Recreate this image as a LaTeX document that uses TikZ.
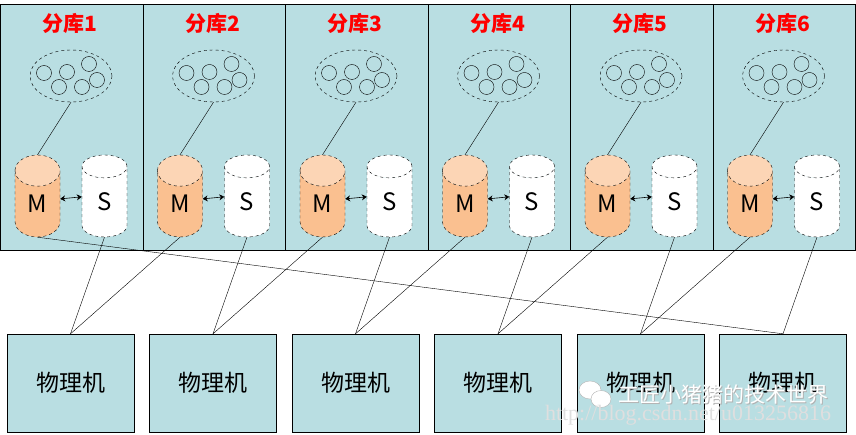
\documentclass[tikz,border=0pt]{standalone}
\usepackage{fontspec}
\setmainfont{Noto Sans CJK SC}
\newfontfamily\urlfont{Liberation Serif}
\usetikzlibrary{shapes.geometric,arrows.meta}

\definecolor{panelblue}{RGB}{185,222,226}
\definecolor{mbody}{RGB}{250,192,144}
\definecolor{mtop}{RGB}{252,213,181}

\tikzset{
  panel/.style={draw, fill=panelblue, minimum width=142.5pt, minimum height=246pt, inner sep=0pt},
  dbname/.style={text=red, font=\bfseries\fontsize{21}{21}\selectfont},
  tablegroup/.style={ellipse, draw, dashed, minimum width=82pt, minimum height=52pt},
  db/.style={cylinder, shape border rotate=90, draw, dashed, aspect=1.6,
    minimum width=45pt, minimum height=82pt, inner sep=0pt, anchor=shape center,
    font=\fontsize{24}{24}\selectfont, cylinder uses custom fill},
  master/.style={db, cylinder body fill=mbody, cylinder end fill=mtop},
  slave/.style={db, cylinder body fill=white, cylinder end fill=white},
  host/.style={draw, fill=panelblue, minimum width=127pt, minimum height=98pt,
    font=\fontsize{23}{23}\selectfont},
  sync/.style={semithick, {Stealth[length=5pt,width=6pt]}-{Stealth[length=5pt,width=6pt]}},
}

\begin{document}
\begin{tikzpicture}[x=1pt, y=-1pt]
  \useasboundingbox (0,0) rectangle (856,435);
  % six shards, each with master and slave
  \foreach \i in {1,...,6}{
    \pgfmathsetmacro\L{142.5*(\i-1)}
    \node [panel, anchor=north west] (P\i) at (\L,4) {};
    \node [dbname] (T\i) at (\L+70,23) {分库\i};
    \node [tablegroup] (E\i) at (\L+71,76) {};
    \foreach \dx/\dy in {-27/-3, -4/-4, 18/-12, 26/4, 11/11, -12/11}
      \draw (E\i) ++(\dx,\dy) circle (7.5);
    \node [master] (M\i) at (\L+37.5,196) {M};
    \node [slave] (S\i) at (\L+104.5,196) {S};
    \draw (E\i.south) -- (M\i.north);
    \draw [sync] ([yshift=5pt]M\i.east) -- ([yshift=5pt]S\i.west);
    \node [host] (B\i) at (\L+70.5,383) {物理机};
  }
  % hosts to databases
  \foreach \i [evaluate=\i as \j using int(\i+1)] in {1,...,5}{
    \draw (B\i.north) -- (S\i.south);
    \draw (B\i.north) -- (M\j.south);
  }
  \draw (B6.north) -- (S6.south);
  \draw (B6.north) -- (M1.south);
  % watermark
  \draw [gray!60, fill=white] (590,390) ellipse (11 and 9);
  \draw [gray!60, fill=white] (601,399) ellipse (10 and 8.5);
  \node [text=gray!60, font=\fontsize{21}{21}\selectfont] at (724,396) {工匠小猪猪的技术世界};
  \node [text=white, font=\fontsize{21}{21}\selectfont] (wm) at (723,395) {工匠小猪猪的技术世界};
  \node [text=gray!25, font=\urlfont\fontsize{22}{22}\selectfont] (url) at (688,415) {http://blog.csdn.net/u013256816};
\end{tikzpicture}
\end{document}
